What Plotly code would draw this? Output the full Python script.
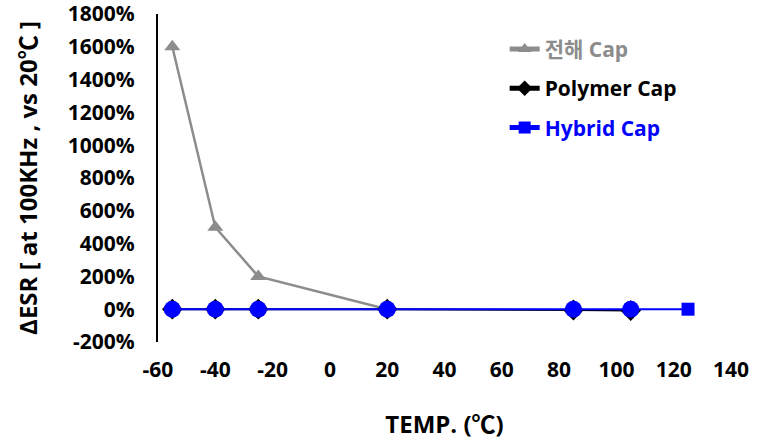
import plotly.graph_objects as go

temp_elec = [-55, -40, -25, 20]
esr_elec = [1600, 500, 200, 0]

temp_poly = [-55, -40, -25, 20, 85, 105]
esr_poly = [0, 0, 0, 0, -5, -8]

# listed from hot to cold so the square marker (125 °C) is the first point (legend symbol)
temp_hyb = [125, 105, 85, 20, -25, -40, -55]
esr_hyb = [0, 0, 0, 0, 0, 0, 0]

y_ticks = list(range(-200, 1801, 200))
y_labels = [f"{v}%" for v in y_ticks]
x_ticks = list(range(-60, 141, 20))
x_labels = [str(v) for v in x_ticks]

FONT = "Open Sans, Noto Sans CJK KR"
FS = 21
TS = 24

fig = go.Figure()
fig.add_trace(go.Scatter(
    x=temp_elec, y=esr_elec, mode="lines+markers",
    name="<span style='color:#8c8c8c'><b>전해 Cap</b></span>",
    legendgroup="a",
    line=dict(color="#8c8c8c", width=2.5),
    marker=dict(symbol="triangle-up", size=14, color="#8c8c8c", opacity=1),
))
fig.add_trace(go.Scatter(
    x=temp_poly, y=esr_poly, mode="lines+markers",
    name="<span style='color:#000000'><b>Polymer Cap</b></span>",
    legendgroup="b",
    line=dict(color="#000000", width=2),
    marker=dict(symbol="diamond", size=16, color="#000000", opacity=1),
))
fig.add_trace(go.Scatter(
    x=temp_hyb, y=esr_hyb, mode="lines+markers",
    name="<span style='color:#0000ff'><b>Hybrid Cap</b></span>",
    legendgroup="c",
    line=dict(color="#0000ff", width=2),
    marker=dict(symbol=["square"] + ["circle"] * 6, size=[13] + [17] * 6,
                color="#0000ff", opacity=1, line=dict(width=0)),
))

fig.update_layout(
    width=759, height=444,
    margin=dict(l=158, r=28, t=14, b=102),
    paper_bgcolor="white", plot_bgcolor="white",
    font=dict(family=FONT, size=FS, color="#000000"),
    showlegend=True,
    legend=dict(x=0.605, y=0.955, xanchor="left", yanchor="top",
                bgcolor="rgba(0,0,0,0)", font=dict(size=FS, family=FONT),
                tracegroupgap=9, itemsizing="constant"),
    xaxis=dict(range=[-60, 140], tickvals=x_ticks, ticktext=x_labels, showgrid=False, zeroline=False,
               showline=False, ticks="outside", ticklen=9, tickcolor="rgba(0,0,0,0)",
               automargin=False, ticklabeloverflow="allow",
               tickfont=dict(size=FS, family=FONT, weight="bold"),
               title=dict(text="<b>TEMP. (℃)</b>", font=dict(size=TS, family=FONT), standoff=33)),
    yaxis=dict(range=[-200, 1800], tickvals=y_ticks, ticktext=y_labels, showgrid=False,
               zeroline=False, showline=True, linecolor="#000000", linewidth=2,
               ticks="outside", ticklen=17, tickcolor="rgba(0,0,0,0)",
               automargin=False, ticklabeloverflow="allow",
               tickfont=dict(size=FS, family=FONT, weight="bold"),
               title=dict(text="<b>ΔESR [ at 100KHz , vs 20℃ ]</b>", font=dict(size=TS, family=FONT), standoff=23)),
)

fig.write_html("out.html", config={"displayModeBar": False},
               post_script="document.body.style.margin='0px';")
